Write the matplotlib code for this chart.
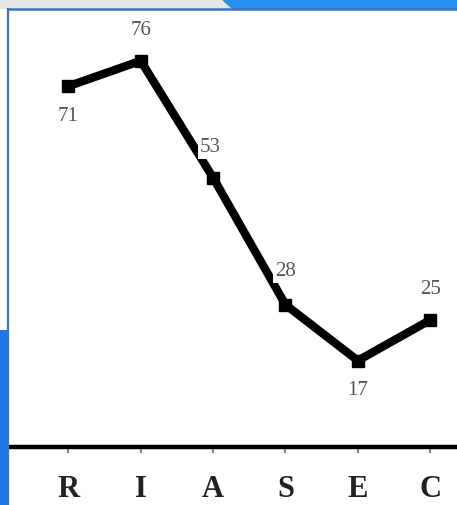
import matplotlib.pyplot as plt
from matplotlib.patches import Rectangle, Polygon
import numpy as np

categories = ['R', 'I', 'A', 'S', 'E', 'C']
scores = [71, 76, 53, 28, 17, 25]
label_side = ['below', 'above', 'above', 'above', 'below', 'above']   # где подпись

W, H = 457, 505
fig = plt.figure(figsize=(W / 100, H / 100), dpi=100)
fig.patch.set_facecolor('white')

def fx(px):  # пиксели -> доли фигуры
    return px / W

def fy(py):
    return 1 - py / H

# фон: серо-синяя полоса сверху и синяя слева
fig.patches.append(Rectangle((0, fy(9)), 1, 9 / H, transform=fig.transFigure,
                             facecolor='#e6e6e6', edgecolor='none', zorder=0))
fig.patches.append(Polygon([(fx(222), fy(0)), (1, fy(0)), (1, fy(9)), (fx(232), fy(9))],
                           closed=True, transform=fig.transFigure,
                           facecolor='#2990f2', edgecolor='none', zorder=0))
fig.patches.append(Rectangle((0, 0), fx(8), fy(330), transform=fig.transFigure,
                             facecolor='#1a78ea', edgecolor='none', zorder=0))
# рамка панели
fig.add_artist(plt.Line2D([fx(8), fx(8)], [0, fy(9)], transform=fig.transFigure,
                          color='#3f74b4', lw=1.6))
fig.add_artist(plt.Line2D([fx(8), 1], [fy(9), fy(9)], transform=fig.transFigure,
                          color='#3f74b4', lw=1.8))

ax = fig.add_axes([fx(9), fy(447), fx(457) - fx(9), fy(10) - fy(447)])
ax.set_facecolor('none')

x = np.arange(len(categories))
ax.plot(x, scores, color='black', lw=6, marker='s', markersize=9, solid_joinstyle='miter')

for xi, v, side in zip(x, scores, label_side):
    dy = -30 if side == 'below' else 30
    dx = 0
    if v == 28:
        dy = 33
    if v == 53:
        dx = -3
    ax.annotate(str(v), (xi, v), xytext=(dx, dy), textcoords='offset pixels',
                ha='center', va='center', fontsize=15, color='#555555',
                family='Liberation Serif',
                bbox=dict(boxstyle='square,pad=0.1', fc='white', ec='none'))

ax.set_xlim(-0.82, 5.37)
ax.set_ylim(0, 86)
ax.set_xticks(x)
ax.set_xticklabels(categories, fontsize=22, fontweight='bold',
                   family='Liberation Serif', color='#222222')
ax.tick_params(axis='x', length=4, width=1.5, color='#888888', pad=16)
ax.set_yticks([])
for s in ['top', 'right', 'left']:
    ax.spines[s].set_visible(False)
ax.spines['bottom'].set_linewidth(3.2)

fig.savefig('out.png', dpi=100)
